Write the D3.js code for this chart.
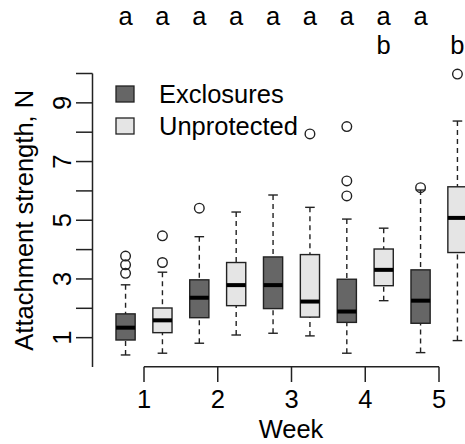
<!DOCTYPE html>
<html>
<head>
<meta charset="utf-8">
<script src="https://cdn.jsdelivr.net/npm/d3@7"></script>
<style>
  body { margin: 0; background: #fff; }
  svg { display: block; font-family: 'Liberation Sans', Arial, sans-serif; }
</style>
</head>
<body>
<svg id="chart" width="465" height="444"></svg>
<script>
// data
const weeks = [1, 2, 3, 4, 5]
const groups = ['Exclosures', 'Unprotected']
const groupFill = ['#666666', '#e5e5e5']

// [lower whisker, q1, median, q3, upper whisker] per week
const exclosuresBox = [
  [0.41, 0.92, 1.34, 1.81, 2.8],
  [0.81, 1.68, 2.36, 2.97, 4.44],
  [1.15, 1.99, 2.79, 3.75, 5.86],
  [0.47, 1.52, 1.89, 2.99, 5.04],
  [0.49, 1.49, 2.26, 3.31, 6.03],
]
const exclosuresOut = [[3.19, 3.48, 3.78], [5.41], [], [5.83, 6.34, 8.19], [6.11]]

const unprotectedBox = [
  [0.47, 1.17, 1.59, 2.01, 3.23],
  [1.09, 2.09, 2.79, 3.56, 5.28],
  [1.06, 1.7, 2.23, 3.83, 5.44],
  [2.26, 2.77, 3.31, 4.02, 4.73],
  [0.9, 3.9, 5.08, 6.14, 8.38],
]
const unprotectedOut = [[3.56, 4.47], [], [7.94], [], [9.98]]

// significance letters, one per box (Exclosures then Unprotected, per week)
const lettersTop = ['a', 'a', 'a', 'a', 'a', 'a', 'a', 'a', 'a', '']
const lettersBottom = ['', '', '', '', '', '', '', 'b', '', 'b']

const yTicks = [1, 2, 3, 4, 5, 6, 7, 8, 9, 10]
const yLabels = [1, 3, 5, 7, 9]

const fontSize = 25.5
const boxOffset = 0.25
const boxWidth = 0.26

const svg = d3.select('#chart')

const x = d3.scaleLinear().domain([1, 5]).range([144, 439])
const y = d3.scaleLinear().domain([0, 10]).range([367, 73.5])

// build one record per box
const boxes = []
weeks.forEach((w, i) => {
  boxes.push({ week: w, g: 0, s: exclosuresBox[i], out: exclosuresOut[i] })
  boxes.push({ week: w, g: 1, s: unprotectedBox[i], out: unprotectedOut[i] })
})
boxes.forEach((d, i) => {
  d.cx = x(d.week + (d.g === 0 ? -boxOffset : boxOffset))
  d.top = lettersTop[i]
  d.bottom = lettersBottom[i]
})

const bw = x(1 + boxWidth) - x(1)

// y axis
const yAxis = svg.append('g').attr('id', 'yAxis')
yAxis.append('line')
  .attr('x1', 92.5).attr('x2', 92.5)
  .attr('y1', y(0)).attr('y2', y(10))
  .attr('stroke', '#222').attr('stroke-width', 1.5)
yAxis.selectAll('line.tick')
  .data(yTicks)
  .join('line')
  .attr('class', 'tick')
  .attr('x1', 76).attr('x2', 92.5)
  .attr('y1', (d) => y(d)).attr('y2', (d) => y(d))
  .attr('stroke', '#222').attr('stroke-width', 1.5)
yAxis.selectAll('text')
  .data(yLabels)
  .join('text')
  .attr('transform', (d) => `translate(71,${y(d)}) rotate(-90)`)
  .attr('text-anchor', 'middle')
  .attr('font-size', fontSize)
  .text((d) => d)

svg.append('text')
  .attr('transform', `translate(33,${(y(0) + y(10)) / 2}) rotate(-90)`)
  .attr('text-anchor', 'middle')
  .attr('font-size', fontSize)
  .text('Attachment strength, N')

// x axis
const xAxis = svg.append('g').attr('id', 'xAxis')
xAxis.append('line')
  .attr('x1', x(1)).attr('x2', x(5))
  .attr('y1', 366.7).attr('y2', 366.7)
  .attr('stroke', '#222').attr('stroke-width', 1.5)
xAxis.selectAll('line.tick')
  .data(weeks)
  .join('line')
  .attr('class', 'tick')
  .attr('x1', (d) => x(d)).attr('x2', (d) => x(d))
  .attr('y1', 366.7).attr('y2', 382)
  .attr('stroke', '#222').attr('stroke-width', 1.5)
xAxis.selectAll('text')
  .data(weeks)
  .join('text')
  .attr('x', (d) => x(d))
  .attr('y', 408)
  .attr('text-anchor', 'middle')
  .attr('font-size', fontSize)
  .text((d) => d)

svg.append('text')
  .attr('x', 291)
  .attr('y', 438)
  .attr('text-anchor', 'middle')
  .attr('font-size', fontSize)
  .text('Week')

// boxes
const bx = svg.append('g').attr('id', 'boxes')
  .selectAll('g')
  .data(boxes)
  .join('g')

bx.append('line')
  .attr('x1', (d) => d.cx).attr('x2', (d) => d.cx)
  .attr('y1', (d) => y(d.s[0])).attr('y2', (d) => y(d.s[1]))
  .attr('stroke', '#222').attr('stroke-width', 1.4)
  .attr('stroke-dasharray', '5,4')
bx.append('line')
  .attr('x1', (d) => d.cx).attr('x2', (d) => d.cx)
  .attr('y1', (d) => y(d.s[4])).attr('y2', (d) => y(d.s[3]))
  .attr('stroke', '#222').attr('stroke-width', 1.4)
  .attr('stroke-dasharray', '5,4')
bx.selectAll('line.cap')
  .data((d) => [d.s[0], d.s[4]].map((v) => ({ cx: d.cx, v })))
  .join('line')
  .attr('class', 'cap')
  .attr('x1', (d) => d.cx - bw / 4).attr('x2', (d) => d.cx + bw / 4)
  .attr('y1', (d) => y(d.v)).attr('y2', (d) => y(d.v))
  .attr('stroke', '#222').attr('stroke-width', 1.4)
bx.append('rect')
  .attr('x', (d) => d.cx - bw / 2)
  .attr('width', bw)
  .attr('y', (d) => y(d.s[3]))
  .attr('height', (d) => y(d.s[1]) - y(d.s[3]))
  .attr('fill', (d) => groupFill[d.g])
  .attr('stroke', '#222').attr('stroke-width', 1.4)
bx.append('line')
  .attr('x1', (d) => d.cx - bw / 2).attr('x2', (d) => d.cx + bw / 2)
  .attr('y1', (d) => y(d.s[2])).attr('y2', (d) => y(d.s[2]))
  .attr('stroke', '#000').attr('stroke-width', 4)
bx.selectAll('circle')
  .data((d) => d.out.map((v) => ({ cx: d.cx, v })))
  .join('circle')
  .attr('cx', (d) => d.cx)
  .attr('cy', (d) => y(d.v))
  .attr('r', 4.8)
  .attr('fill', 'none')
  .attr('stroke', '#222').attr('stroke-width', 1.4)

// significance letters (two rows, spaced so the text boxes stay clear)
bx.append('text')
  .attr('x', (d) => d.cx)
  .attr('y', 25)
  .attr('text-anchor', 'middle')
  .attr('font-size', fontSize)
  .text((d) => d.top)
bx.append('text')
  .attr('x', (d) => d.cx)
  .attr('y', 54)
  .attr('text-anchor', 'middle')
  .attr('font-size', fontSize)
  .text((d) => d.bottom)

// legend
const legend = svg.append('g').attr('id', 'legend')
  .selectAll('g')
  .data(groups)
  .join('g')
  .attr('transform', (d, i) => `translate(116,${86 + i * 32})`)
legend.append('rect')
  .attr('width', 18).attr('height', 16)
  .attr('fill', (d, i) => groupFill[i])
  .attr('stroke', '#222').attr('stroke-width', 1.3)
legend.append('text')
  .attr('x', 43)
  .attr('y', 16.5)
  .attr('font-size', fontSize)
  .text((d) => d)
</script>
</body>
</html>
